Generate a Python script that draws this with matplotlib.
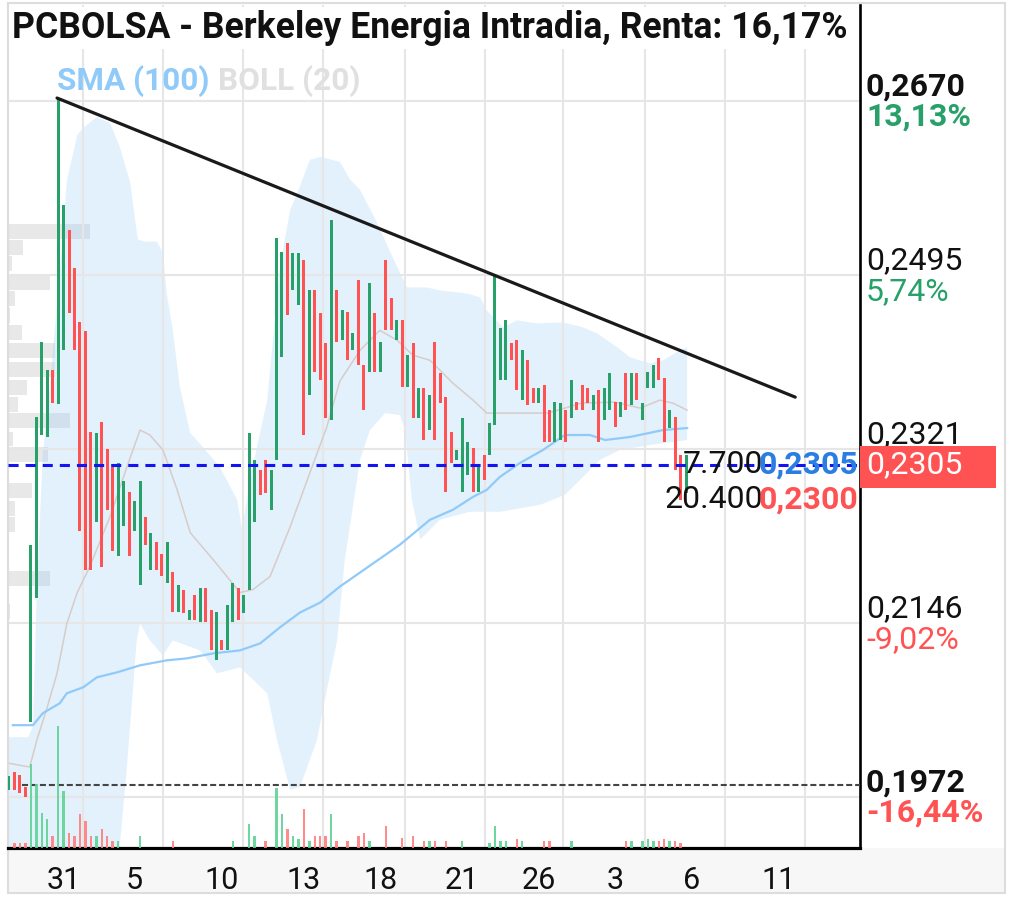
import numpy as np
import matplotlib.pyplot as plt
from matplotlib.patches import Rectangle
from matplotlib.transforms import blended_transform_factory

plt.rcParams['font.family'] = ['Roboto', 'DejaVu Sans']

## Candles: open / close per bar (intraday bars) ##
opens = [0.1979, 0.1997, 0.1994, 0.1982, 0.2047, 0.2172, 0.2335, 0.2333, 0.2400, 0.2366,
         0.2420, 0.2541, 0.2503, 0.2448, 0.2439, 0.2338, 0.2248, 0.2348, 0.2321, 0.2303,
         0.2214, 0.2244, 0.2278, 0.2239, 0.2185, 0.2253, 0.2200, 0.2228, 0.2216, 0.2187,
         0.2198, 0.2157, 0.2180, 0.2149, 0.2175, 0.2147, 0.2182, 0.2160, 0.2109, 0.2129,
         0.2119, 0.2147, 0.2182, 0.2156, 0.2180, 0.2248, 0.2300, 0.2310, 0.2260, 0.2310,
         0.2413, 0.2528, 0.2480, 0.2465, 0.2511, 0.2375, 0.2480, 0.2457, 0.2427, 0.2350,
         0.2480, 0.2430, 0.2458, 0.2420, 0.2490, 0.2405, 0.2398, 0.2457, 0.2398, 0.2511,
         0.2472, 0.2430, 0.2450, 0.2383, 0.2427, 0.2352, 0.2382, 0.2340, 0.2428, 0.2397,
         0.2373, 0.2338, 0.2310, 0.2278, 0.2295, 0.2322, 0.2278, 0.2315, 0.2315, 0.2345,
         0.2390, 0.2390, 0.2427, 0.2430, 0.2370, 0.2410, 0.2382, 0.2367, 0.2385, 0.2360,
         0.2328, 0.2330, 0.2360, 0.2352, 0.2368, 0.2385, 0.2382, 0.2360, 0.2380, 0.2350,
         0.2360, 0.2368, 0.2353, 0.2397, 0.2365, 0.2397, 0.2350, 0.2382, 0.2382, 0.2412,
         0.2392, 0.2342, 0.2353, 0.2315, 0.2277]
closes = [0.1993, 0.1979, 0.1976, 0.1972, 0.2225, 0.2353, 0.2428, 0.2400, 0.2367, 0.2672,
          0.2566, 0.2457, 0.2420, 0.2239, 0.2200, 0.2200, 0.2337, 0.2203, 0.2260, 0.2219,
          0.2307, 0.2289, 0.2214, 0.2269, 0.2289, 0.2225, 0.2237, 0.2200, 0.2194, 0.2228,
          0.2157, 0.2185, 0.2156, 0.2160, 0.2149, 0.2182, 0.2147, 0.2119, 0.2157, 0.2119,
          0.2165, 0.2187, 0.2149, 0.2175, 0.2337, 0.2310, 0.2275, 0.2277, 0.2300, 0.2533,
          0.2519, 0.2455, 0.2518, 0.2518, 0.2335, 0.2480, 0.2398, 0.2390, 0.2352, 0.2551,
          0.2428, 0.2460, 0.2410, 0.2437, 0.2405, 0.2360, 0.2487, 0.2398, 0.2428, 0.2440,
          0.2440, 0.2450, 0.2383, 0.2415, 0.2352, 0.2382, 0.2330, 0.2375, 0.2330, 0.2367,
          0.2278, 0.2307, 0.2320, 0.2352, 0.2328, 0.2278, 0.2305, 0.2290, 0.2347, 0.2496,
          0.2442, 0.2450, 0.2410, 0.2380, 0.2420, 0.2365, 0.2367, 0.2382, 0.2328, 0.2328,
          0.2368, 0.2367, 0.2328, 0.2390, 0.2360, 0.2360, 0.2367, 0.2375, 0.2328, 0.2382,
          0.2397, 0.2343, 0.2368, 0.2360, 0.2397, 0.2370, 0.2367, 0.2398, 0.2405, 0.2390,
          0.2328, 0.2360, 0.2300, 0.2270, 0.2315]
# volume per bar (thousands)
volumes = [0, 5, 5, 5, 84, 64, 35, 29, 12, 122,
           57, 15, 12, 34, 27, 12, 12, 19, 12, 7,
           7, 0, 0, 0, 12, 0, 0, 0, 0, 0,
           7, 0, 0, 0, 0, 0, 0, 0, 0, 0,
           0, 7, 0, 0, 24, 12, 0, 7, 0, 60,
           34, 19, 12, 9, 39, 7, 12, 12, 12, 34,
           7, 0, 7, 0, 12, 15, 7, 0, 0, 22,
           0, 0, 10, 0, 12, 0, 7, 7, 7, 0,
           7, 0, 0, 7, 0, 0, 0, 0, 5, 22,
           7, 7, 0, 9, 7, 0, 0, 0, 7, 7,
           0, 0, 0, 7, 0, 0, 0, 0, 0, 0,
           0, 0, 0, 7, 7, 0, 7, 9, 7, 7,
           9, 7, 7, 5, 0]

## Indicators (bar index, price) ##
boll_up_x = [-0.2, 3.5, 4.4, 5.1, 6.2, 7.5, 9.3, 10.6, 12.5, 13.6, 16.1, 18.5, 20.3, 22.2, 23.6,
             24.9, 27.1, 28.2, 28.9, 30.0, 31.3, 33.2, 35.5, 38.6, 41.8, 42.7, 44.1, 47.3, 49.6,
             51.5, 52.7, 55.1, 57.0, 60.6, 62.5, 64.3, 67.4, 70.3, 72.0, 72.9, 76.6, 78.9, 83.9,
             86.3, 87.5, 90.5, 93.0, 96.7, 101.5, 105.1, 107.7, 111.4, 113.7, 117.4, 119.8,
             122.9, 124.2]
boll_up_y = [0.2032, 0.2032, 0.2043, 0.2180, 0.2317, 0.2385, 0.2498, 0.2590, 0.2636, 0.2643,
             0.2654, 0.2648, 0.2624, 0.2588, 0.2531, 0.2529, 0.2529, 0.2518, 0.2477, 0.2440,
             0.2383, 0.2337, 0.2323, 0.2303, 0.2270, 0.2240, 0.2290, 0.2370, 0.2503, 0.2561,
             0.2576, 0.2611, 0.2614, 0.2609, 0.2591, 0.2581, 0.2548, 0.2513, 0.2493, 0.2483,
             0.2483, 0.2480, 0.2477, 0.2473, 0.2460, 0.2443, 0.2450, 0.2447, 0.2448, 0.2443,
             0.2437, 0.2423, 0.2413, 0.2407, 0.2410, 0.2420, 0.2423]
boll_lo_x = [-0.2, 19.4, 21.6, 23.4, 24.0, 25.8, 28.2, 30.0, 35.0, 38.1, 42.3, 47.3, 49.1,
             51.5, 53.3, 56.4, 58.2, 60.1, 61.5, 64.3, 66.1, 68.9, 71.6, 72.5, 73.8, 75.3,
             78.9, 84.4, 89.9, 97.3, 101.8, 104.6, 108.2, 111.9, 117.4, 124.2]
boll_lo_y = [0.1869, 0.1869, 0.2002, 0.2129, 0.2146, 0.2129, 0.2114, 0.2129, 0.2119, 0.2096,
             0.2102, 0.2076, 0.2029, 0.1979, 0.1982, 0.2029, 0.2079, 0.2129, 0.2210, 0.2310,
             0.2340, 0.2357, 0.2355, 0.2340, 0.2270, 0.2230, 0.2250, 0.2258, 0.2258, 0.2265,
             0.2275, 0.2290, 0.2310, 0.2320, 0.2325, 0.2330]
boll_mid_x = [-0.2, 3.8, 5.1, 7.0, 8.8, 10.6, 12.5, 14.8, 18.5, 21.6, 24.0, 25.8, 28.2, 30.8,
              33.2, 37.4, 42.3, 44.7, 47.8, 51.5, 55.1, 58.2, 60.6, 64.3, 67.9, 71.1, 74.0,
              77.1, 81.3, 85.0, 87.5, 93.6, 98.7, 104.9, 111.0, 115.6, 119.2, 121.6, 124.2]
boll_mid_y = [0.2006, 0.2002, 0.2029, 0.2062, 0.2096, 0.2146, 0.2177, 0.2203, 0.2253, 0.2303,
              0.2340, 0.2335, 0.2320, 0.2280, 0.2237, 0.2210, 0.2177, 0.2180, 0.2193, 0.2243,
              0.2297, 0.2343, 0.2389, 0.2420, 0.2440, 0.2430, 0.2415, 0.2410, 0.2387, 0.2370,
              0.2357, 0.2357, 0.2357, 0.2367, 0.2368, 0.2362, 0.2370, 0.2367, 0.2360]
sma_x = [0.7, 4.4, 6.2, 9.3, 10.6, 13.6, 16.1, 19.8, 24.0, 28.9, 32.6, 37.4, 42.3, 46.0, 49.6,
         53.3, 57.0, 60.6, 71.6, 77.1, 81.3, 85.0, 87.5, 89.9, 93.6, 97.8, 101.8, 106.4, 109.2,
         113.7, 119.8, 124.2]
sma_y = [0.2044, 0.2044, 0.2056, 0.2066, 0.2076, 0.2082, 0.2092, 0.2097, 0.2104, 0.2109, 0.2111,
         0.2116, 0.2119, 0.2126, 0.2142, 0.2157, 0.2167, 0.2183, 0.2225, 0.2250, 0.2260, 0.2273,
         0.2280, 0.2293, 0.2307, 0.2320, 0.2335, 0.2335, 0.2330, 0.2333, 0.2340, 0.2342]

## Volume profile (price level, thousands) ##
profile_price = [0.2539, 0.2523, 0.2507, 0.2488, 0.2472, 0.2455, 0.2438, 0.2420, 0.2401, 0.2383,
                 0.2366, 0.2350, 0.2331, 0.2315, 0.2279, 0.2261, 0.2245, 0.2191, 0.2158]
profile_vol = [82, 15, 4, 42, 7, 2, 14, 47, 47, 19, 10, 62, 5, 40, 24, 7, 7, 42, 2]

trend_x = [8.8, 144.0]
trend_y = [0.2673, 0.2373]

last_price = 0.2305
ref_price = 0.1984
ask_price, ask_vol = '0,2305', '7.700'
bid_price, bid_vol = '0,2300', '20.400'

price_levels = [0.2670, 0.2495, 0.2321, 0.2146, 0.1972]
price_labels = ['0,2670', '0,2495', '0,2321', '0,2146', '0,1972']
pct_labels = ['13,13%', '5,74%', '', '-9,02%', '-16,44%']
bold_levels = [True, False, False, False, True]

day_pos = [10, 23, 39, 54, 68, 83, 97, 111, 125, 141]
day_labels = ['31', '5', '10', '13', '18', '21', '26', '3', '6', '11']
grid_x = [13.6, 28.2, 42.9, 57.5, 72.5, 87.2, 101.5, 116.5, 131.1, 145.8]

GREEN = '#27a06a'
RED = '#ff5252'
FS = 23

## Figure ##
W, H = 1013, 908
fig = plt.figure(figsize=(W / 100, H / 100), dpi=100)
fig.patch.set_facecolor('white')

# frame and bottom strip
fig.add_artist(Rectangle((8 / W, 15 / H), 997 / W, 45 / H, transform=fig.transFigure,
                         facecolor='#f7f7f7', edgecolor='none', zorder=0))
fig.add_artist(Rectangle((8 / W, 15 / H), 997 / W, 890 / H, transform=fig.transFigure,
                         facecolor='none', edgecolor='#dddddd', lw=1.5, zorder=0))

rect = [8 / W, 60 / H, 852 / W, 843 / H]
ax = fig.add_axes(rect)
axv = ax.twinx()
axp = ax.twiny()
# profile at the back (white background), prices, then volume on top
axp.set_zorder(1)
ax.set_zorder(2)
axv.set_zorder(3)
axp.patch.set_facecolor('white')
ax.patch.set_visible(False)
axv.patch.set_visible(False)

ax.set_xlim(-0.18, 155.86)
ax.set_ylim(0.19208, 0.27663)

idx = np.arange(len(opens))
o = np.array(opens)
c = np.array(closes)
up = c >= o
cols = np.where(up, GREEN, RED)

# Bollinger band fill + mid line, SMA
ax.fill(np.r_[boll_up_x, boll_lo_x[::-1]], np.r_[boll_up_y, boll_lo_y[::-1]],
        color='#90caf9', alpha=0.25, lw=0, zorder=0.5)
ax.plot(boll_mid_x, boll_mid_y, color='#d7ccc8', lw=1.1, zorder=1.5)
ax.plot(sma_x, sma_y, color='#90caf9', lw=1.6, zorder=1.6)

# grid
for p in price_levels:
    ax.axhline(p, color='#e6e6e6', lw=1.5, zorder=1)
for g in grid_x:
    ax.axvline(g, color='#e6e6e6', lw=1.5, zorder=1)

# candles
ax.bar(idx, c - o, bottom=o, width=0.55, color=cols, lw=0, zorder=3)

# trend line, last price, reference
ax.plot(trend_x, trend_y, color='#1a1a1a', lw=2.3, zorder=4, solid_capstyle='round')
ax.axhline(last_price, color='#1414f0', lw=2.2, dashes=(3.3, 2.3), zorder=4)
ax.plot([2.4, 155.86], [ref_price, ref_price], color='#444444', lw=1.5, dashes=(2.9, 1.4),
        zorder=4)

# volume
vcols = np.where(up, '#5fd296', '#ff7f7f')
axv.bar(idx, volumes, width=0.45, color=vcols, lw=0, alpha=0.9)
axv.set_ylim(0, 843)
axv.set_yticks([])
axv.tick_params(length=0)
for s in axv.spines.values():
    s.set_visible(False)

# volume profile
axp.barh(profile_price, profile_vol, height=0.0015, color='black', alpha=0.09, lw=0)
axp.set_xlim(0, 852)
axp.set_xticks([])
for s in axp.spines.values():
    s.set_visible(False)

# axes styling
ax.spines['top'].set_visible(False)
ax.spines['left'].set_color('#dddddd')
ax.spines['left'].set_linewidth(1.5)
ax.spines['right'].set_color('black')
ax.spines['right'].set_linewidth(1.9)
ax.spines['bottom'].set_color('black')
ax.spines['bottom'].set_linewidth(2.3)
ax.set_yticks([])
ax.set_xticks(day_pos)
ax.set_xticklabels(day_labels, fontsize=22, color='#111111')
ax.tick_params(axis='x', length=0, pad=13)

# right price labels
tr = blended_transform_factory(ax.transAxes, ax.transData)
for p, lab, pct, b in zip(price_levels, price_labels, pct_labels, bold_levels):
    w = 'bold' if b else 'normal'
    ax.annotate(lab, xy=(1, p), xycoords=tr, xytext=(4.3, 10.5), textcoords='offset points',
                ha='left', va='center', fontsize=FS, fontweight=w, color='#111111',
                annotation_clip=False)
    if pct:
        pc = GREEN if not pct.startswith('-') else RED
        ax.annotate(pct, xy=(1, p), xycoords=tr, xytext=(4.3, -11.5), textcoords='offset points',
                    ha='left', va='center', fontsize=FS, fontweight=w, color=pc,
                    annotation_clip=False)

# last price box
ax.add_patch(Rectangle((1.0, 0.2282), 136 / 852, 0.0042, transform=tr, facecolor=RED,
                       edgecolor='none', clip_on=False, zorder=5))
ax.annotate(ask_price, xy=(1, last_price), xycoords=tr, xytext=(4.3, 0), textcoords='offset points',
            ha='left', va='center', fontsize=FS, color='white', zorder=6, annotation_clip=False)

# bid / ask
ax.annotate(ask_vol, xy=(1, last_price), xycoords=tr, xytext=(-70, 0), textcoords='offset points',
            ha='right', va='center', fontsize=FS, color='#111111', zorder=6)
ax.annotate(ask_price, xy=(1, last_price), xycoords=tr, xytext=(-1.5, 0), textcoords='offset points',
            ha='right', va='center', fontsize=FS, fontweight='bold', color='#2a7de1', zorder=6)
ax.annotate(bid_vol, xy=(1, last_price), xycoords=tr, xytext=(-70, -25), textcoords='offset points',
            ha='right', va='center', fontsize=FS, color='#111111', zorder=6)
ax.annotate(bid_price, xy=(1, last_price), xycoords=tr, xytext=(-1.5, -25), textcoords='offset points',
            ha='right', va='center', fontsize=FS, fontweight='bold', color=RED, zorder=6)

# legend texts and title
ax.text(49 / 852, 1 - 76 / 843, 'SMA (100)', transform=ax.transAxes, fontsize=22.7,
        fontweight='bold', color='#90caf9', va='center', ha='left', zorder=6)
ax.text(210 / 852, 1 - 76 / 843, 'BOLL (20)', transform=ax.transAxes, fontsize=22.7,
        fontweight='bold', color='#e0e0e0', va='center', ha='left', zorder=6)
fig.text(12 / W, 1 - 28 / H, 'PCBOLSA - Berkeley Energia Intradia, Renta: 16,17%', fontsize=25.6,
         fontweight='bold', color='#111111', va='center', ha='left',
         bbox=dict(facecolor='white', edgecolor='none', pad=2))

fig.savefig('out.png', dpi=100)
